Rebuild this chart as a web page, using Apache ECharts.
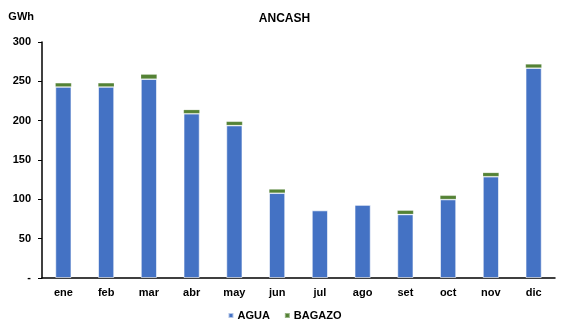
<!DOCTYPE html>
<html>
<head>
<meta charset="utf-8">
<script src="https://cdn.jsdelivr.net/npm/echarts@6/dist/echarts.min.js"></script>
<style>html,body{margin:0;padding:0;background:#fff}#c{width:569px;height:335px}</style>
</head>
<body>
<div id="c"></div>
<script>
var categories = ['ene','feb','mar','abr','may','jun','jul','ago','set','oct','nov','dic'];
var agua = [243,243,253,209,194,108,86,93,81,100,129,267];
var bagazo = [5,5,6,5,5,5,0,0,5,5,5,5];
var yTicks = [0,50,100,150,200,250,300];

var chart = echarts.init(document.getElementById('c'));
var font = 'Liberation Sans, Arial, sans-serif';
chart.setOption({
  animation: false,
  title: {text: 'ANCASH', left: 'center', top: 8, textStyle: {fontFamily: font, fontSize: 12, fontWeight: 'bold', color: '#000'}},
  legend: {bottom: 9, left: 'center', itemWidth: 5, itemHeight: 5, itemGap: 14, icon: 'rect',
    textStyle: {fontFamily: font, fontSize: 11, fontWeight: 'bold', color: '#000', padding: [0, 0, 0, -1]}, data: ['AGUA','BAGAZO']},
  grid: {left: 42, right: 14, top: 42, bottom: 57},
  xAxis: {type: 'category', data: categories,
    axisLine: {lineStyle: {color: '#000', width: 1.5}}, axisTick: {show: false},
    axisLabel: {fontFamily: font, fontSize: 11, fontWeight: 'bold', color: '#000', margin: 9}},
  yAxis: {type: 'value', min: yTicks[0], max: yTicks[yTicks.length-1], interval: 50,
    name: 'GWh', nameLocation: 'end', nameGap: 20,
    nameTextStyle: {fontFamily: font, fontSize: 11, fontWeight: 'bold', color: '#000', align: 'right', padding: [0, 8, 0, 0]},
    axisLine: {show: true, lineStyle: {color: '#000', width: 1.5}},
    axisTick: {show: true, length: 4, lineStyle: {color: '#000'}},
    splitLine: {show: false},
    axisLabel: {fontFamily: font, fontSize: 11, fontWeight: 'bold', color: '#000', margin: 11,
      formatter: function(v){ return v === 0 ? '-' : String(v); }}},
  series: [
    {name: 'AGUA', type: 'bar', stack: 's', data: agua, barWidth: '38%',
      itemStyle: {color: '#4472C4', borderColor: 'rgba(255,255,255,0.6)', borderWidth: 1}},
    {name: 'BAGAZO', type: 'bar', stack: 's', data: bagazo, barWidth: '38%',
      itemStyle: {color: '#548235', borderColor: 'rgba(255,255,255,0.4)', borderWidth: 0.5}}
  ]
});
</script>
</body>
</html>
